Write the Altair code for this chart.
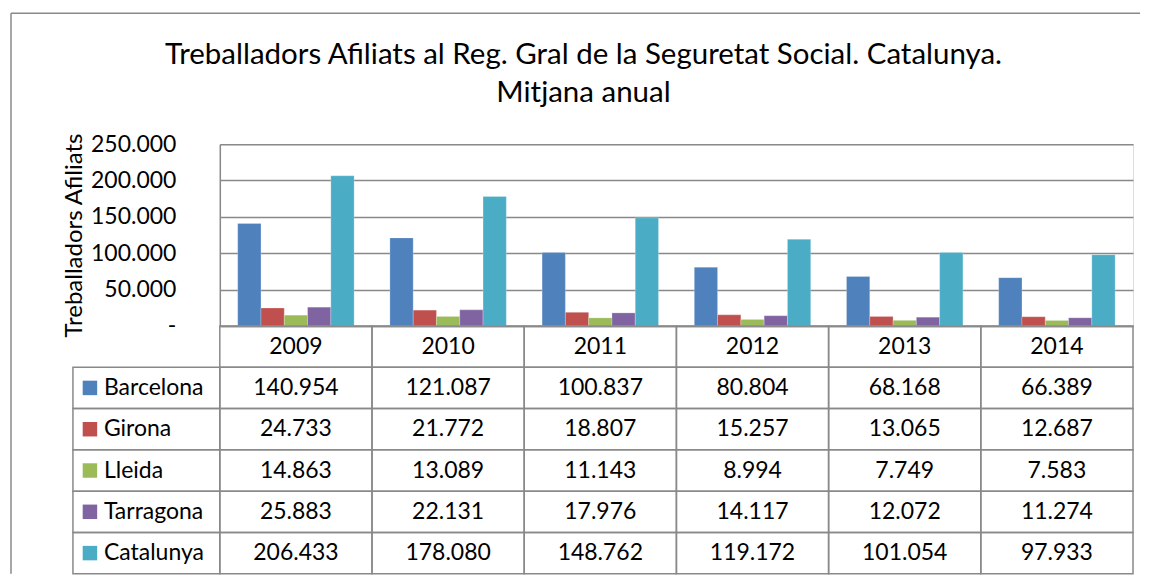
import altair as alt
import pandas as pd

years = ["2009", "2010", "2011", "2012", "2013", "2014"]
regions = ["Barcelona", "Girona", "Lleida", "Tarragona", "Catalunya"]
barcelona = [140954, 121087, 100837, 80804, 68168, 66389]
girona = [24733, 21772, 18807, 15257, 13065, 12687]
lleida = [14863, 13089, 11143, 8994, 7749, 7583]
tarragona = [25883, 22131, 17976, 14117, 12072, 11274]
catalunya = [206433, 178080, 148762, 119172, 101054, 97933]
colors = ["#4F81BD", "#C0504D", "#9BBB59", "#8064A2", "#4BACC6"]
y_ticks = [0, 50000, 100000, 150000, 200000, 250000]

title_lines = ["Treballadors Afiliats al Reg. Gral de la Seguretat Social. Catalunya.",
               "Mitjana anual"]
y_title = "Treballadors Afiliats"
header_key = "Any"

series = [barcelona, girona, lleida, tarragona, catalunya]
rows = []
for r, vals in zip(regions, series):
    for yr, v in zip(years, vals):
        rows.append({"region": r, "year": yr, "value": v, "row": r})
df = pd.DataFrame(rows)
hdr = pd.DataFrame({"year": years, "row": [header_key] * len(years), "value": [None] * len(years)})
table_df = pd.concat([hdr, df[["year", "row", "value"]]], ignore_index=True)
legend_df = pd.DataFrame({"region": regions})
one = pd.DataFrame({"k": [0]})

FONT = "Lato"
FS = 23
GRID = "#898989"
GW = 1.5

row_domain = [header_key] + regions
row_scale = alt.Scale(domain=row_domain, range=[182, 430], paddingInner=0, paddingOuter=0)
x_scale = alt.Scale(domain=years, paddingInner=0, paddingOuter=0)
color_scale = alt.Scale(domain=regions, range=colors)
x_axis = alt.Axis(title=None, labels=False, ticks=False, grid=False, domain=True,
                  domainColor=GRID, domainWidth=GW)

num_fmt = "replace(format(datum.value, ','), ',', '.')"

border_top = alt.Chart(one).mark_rule(color=GRID, strokeWidth=GW).encode(
    x=alt.value(-209), x2=alt.value(921), y=alt.value(-131))
border_left = alt.Chart(one).mark_rule(color=GRID, strokeWidth=GW).encode(
    x=alt.value(-209), y=alt.value(-131), y2=alt.value(430))

bars = alt.Chart(df).mark_bar(stroke="white", strokeWidth=0.4, strokeOpacity=0.6).encode(
    x=alt.X("year:N", scale=x_scale, axis=x_axis),
    xOffset=alt.XOffset("region:N", scale=alt.Scale(domain=regions, paddingInner=0, paddingOuter=0.768)),
    y=alt.Y("value:Q", scale=alt.Scale(domain=[0, 250000], nice=False),
            axis=alt.Axis(values=y_ticks, title=y_title,
                          labelExpr="datum.value == 0 ? '-\u00a0\u00a0\u00a0' : " + num_fmt,
                          labelFont=FONT, labelFontSize=FS, labelColor="black", labelPadding=44,
                          ticks=False, tickSize=0, domain=True, domainColor=GRID, domainWidth=GW,
                          grid=True, gridColor=GRID, gridWidth=GW,
                          titleFont=FONT, titleFontSize=24, titleFontWeight="normal",
                          titleColor="black", titlePadding=4)),
    color=alt.Color("region:N", scale=color_scale, legend=None),
)

cells = alt.Chart(table_df).mark_rect(filled=False, color=GRID, strokeWidth=GW).encode(
    x=alt.X("year:N", scale=x_scale, axis=x_axis),
    y=alt.Y("row:N", scale=row_scale, axis=None),
)

cell_text = alt.Chart(table_df).transform_calculate(
    label="datum.row == '" + header_key + "' ? datum.year : " + num_fmt
).mark_text(font=FONT, fontSize=FS, color="black", baseline="middle", align="center").encode(
    x=alt.X("year:N", scale=x_scale, axis=x_axis),
    y=alt.Y("row:N", scale=row_scale, axis=None),
    text="label:N",
)

leg_cells = alt.Chart(legend_df).mark_rect(filled=False, color=GRID, strokeWidth=GW).encode(
    x=alt.value(-147), x2=alt.value(0),
    y=alt.Y("region:N", scale=row_scale, axis=None),
)

leg_squares = alt.Chart(legend_df).mark_point(shape="square", filled=True, size=210, opacity=1).encode(
    x=alt.value(-130),
    y=alt.Y("region:N", scale=row_scale, axis=None),
    color=alt.Color("region:N", scale=color_scale, legend=None),
)

leg_names = alt.Chart(legend_df).mark_text(font=FONT, fontSize=FS, color="black", align="left",
                                           baseline="middle").encode(
    x=alt.value(-116),
    y=alt.Y("region:N", scale=row_scale, axis=None),
    text="region:N",
)

chart = alt.layer(
    border_top, border_left, bars, cells, cell_text, leg_cells, leg_squares, leg_names
).resolve_scale(y="independent").properties(
    width=914, height=182,
    padding={"left": 2, "top": 4, "right": 0, "bottom": 0},
    title=alt.TitleParams(text=title_lines, font=FONT, fontSize=29.5, fontWeight="normal",
                          color="black", anchor="middle", offset=-96, lineHeight=38, dx=-93),
).configure_view(stroke=None).configure(background="white")

chart.save("out.html", embed_options={"renderer": "svg", "actions": False})
